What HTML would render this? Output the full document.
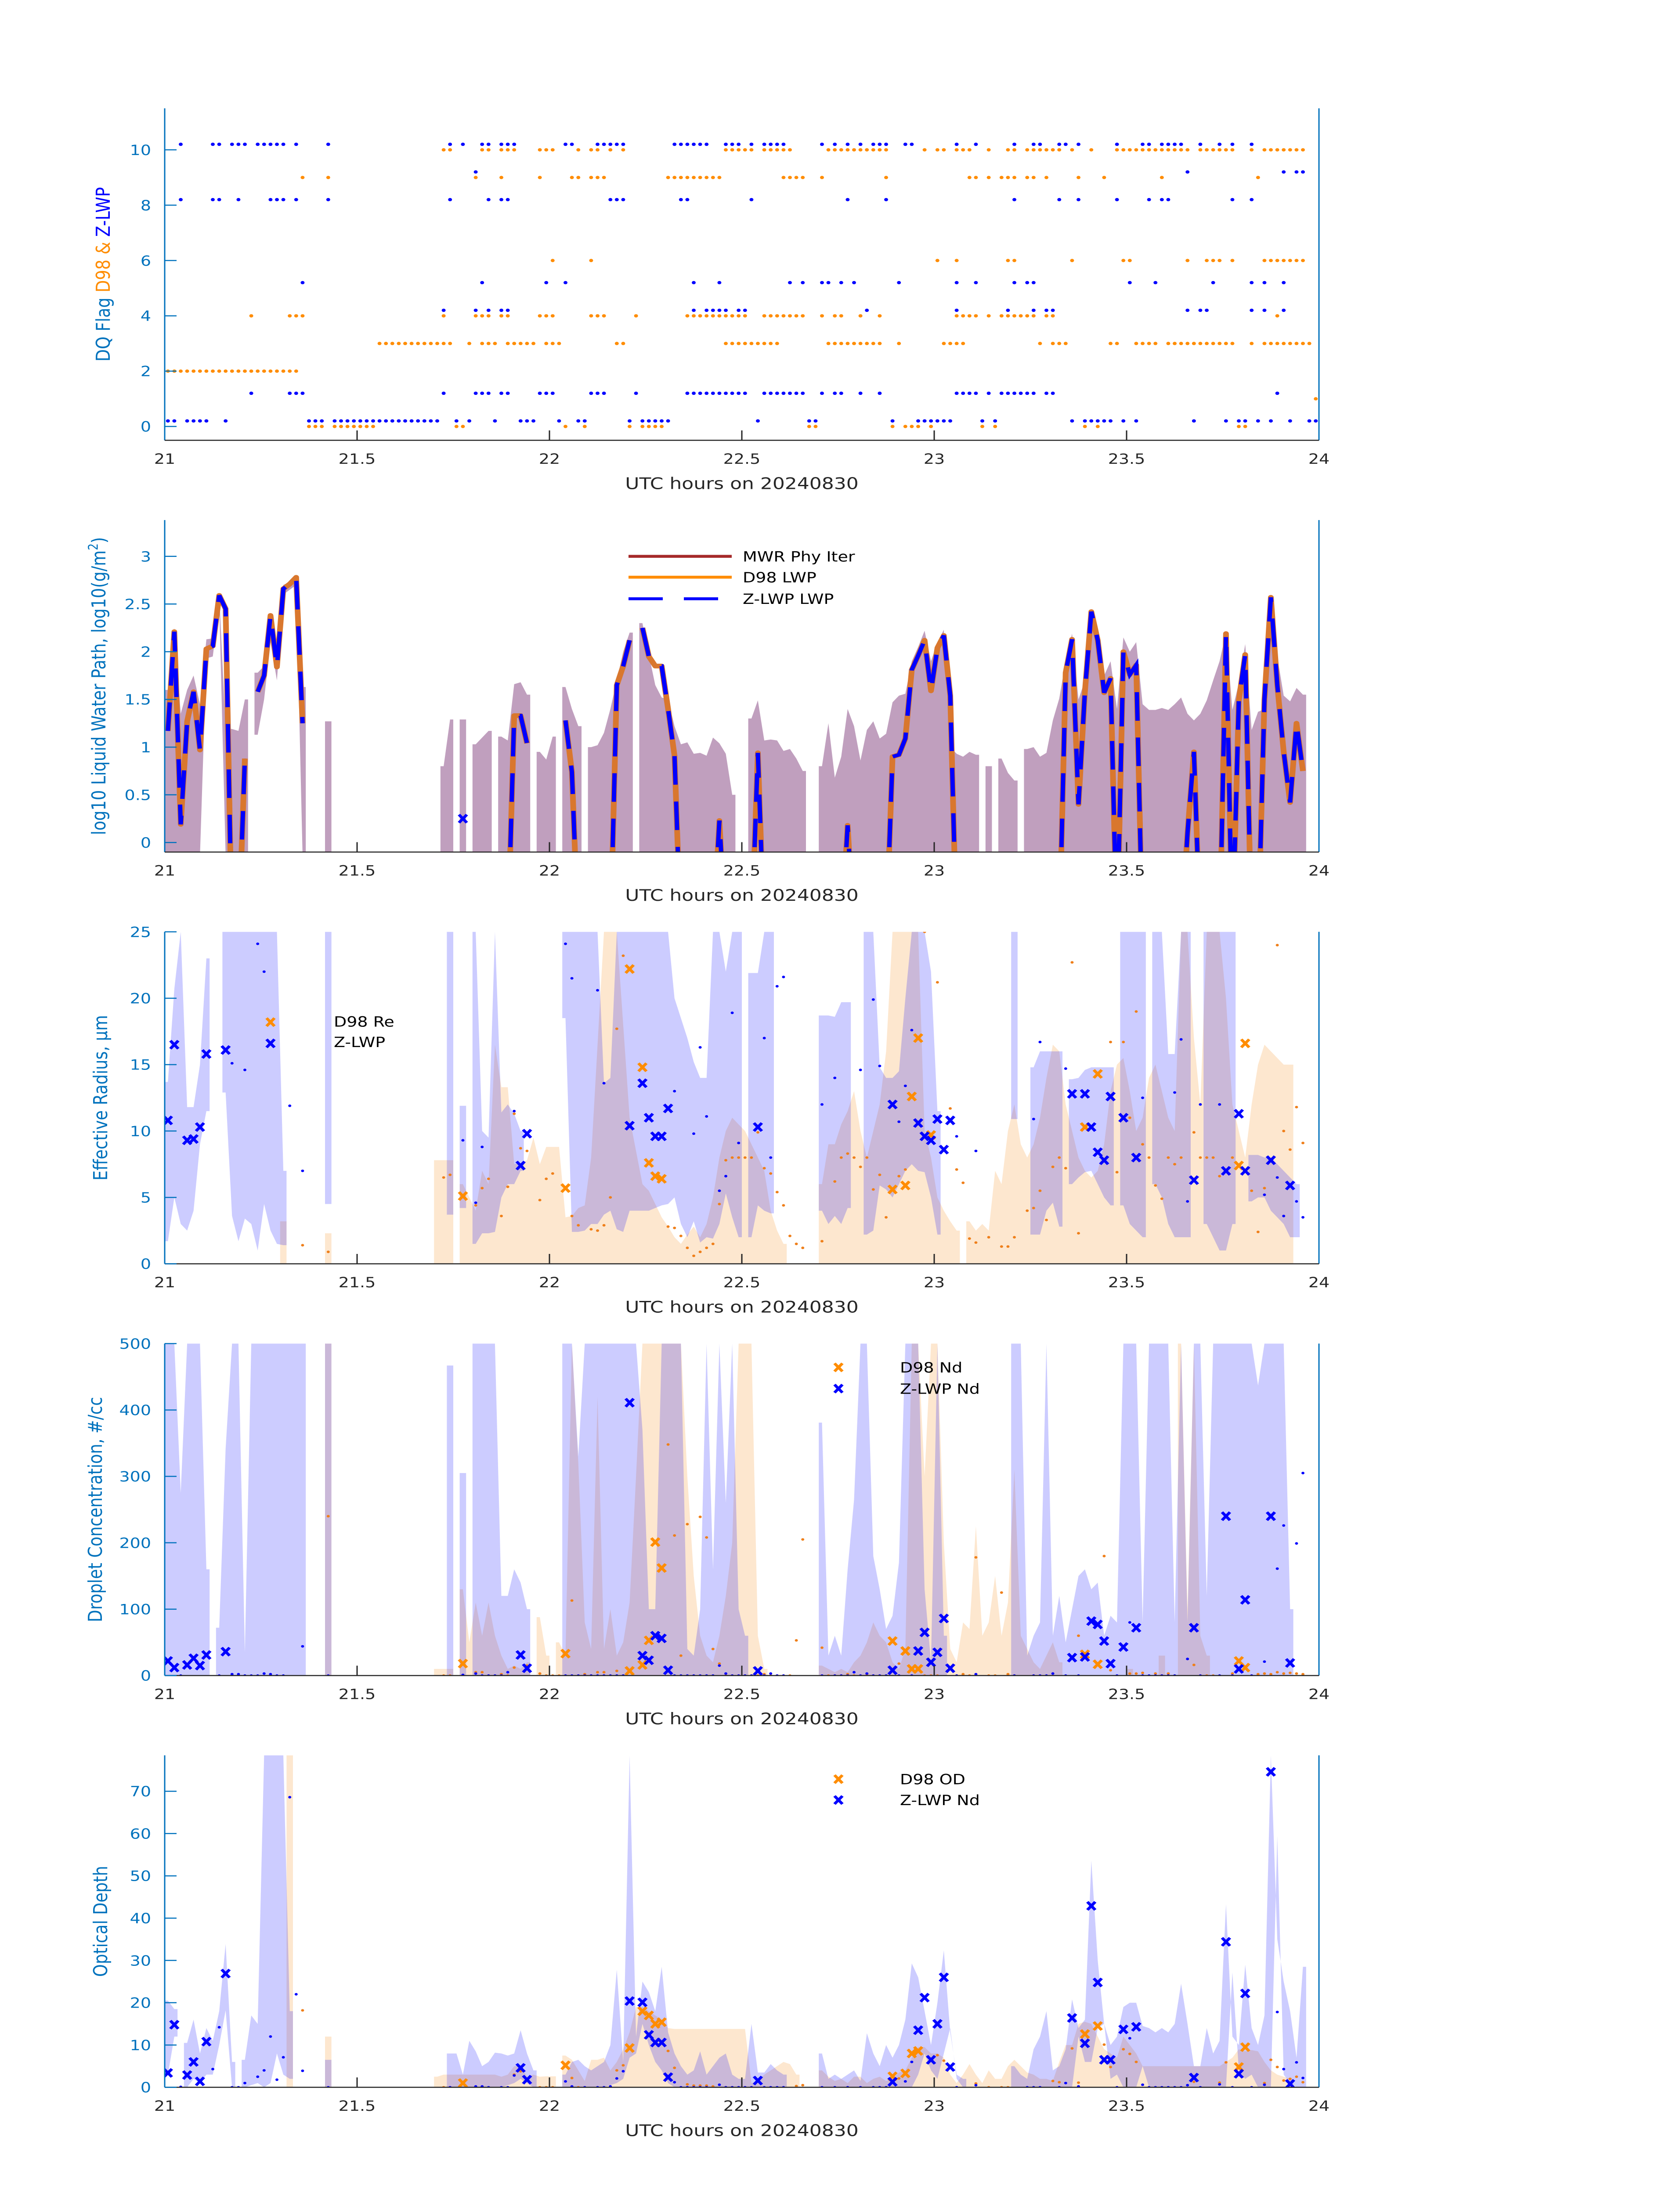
<!DOCTYPE html>
<html><head><meta charset="utf-8"><title>Cloud retrievals 20240830</title>
<style>
html,body{margin:0;padding:0;background:#fff;overflow:hidden;}
svg{display:block;width:100vw;height:100vh;font-family:"DejaVu Sans","Liberation Sans",sans-serif;}
</style></head>
<body>
<svg id="chart" xmlns="http://www.w3.org/2000/svg" viewBox="0 0 3825 6000" preserveAspectRatio="none">
<rect x="0" y="0" width="3825" height="6000" fill="#fff"/>
</svg>
<script>
// ---------- Panel 1: DQ flags (minute indices per flag level) ----------
const d98FlagLevels = [10, 9, 6, 4, 3, 2, 1, 0];
const d98Flag10 = [43,44,49,50,52,53,54,58,59,60,64,66,67,69,71,87,88,89,90,91,93,94,95,96,97,103,104,105,106,107,108,109,110,111,112,118,120,121,123,124,125,128,131,132,134,135,136,137,138,139,141,144,148,149,150,151,152,153,154,155,156,157,158,159,161,162,163,164,165,166,169,171,172,173,174,175,176,177];
const d98Flag9 = [21,25,48,52,58,63,64,66,67,68,78,79,80,81,82,83,84,85,86,96,97,98,99,102,112,125,126,128,130,131,132,134,135,137,142,146,155,170];
const d98Flag6 = [60,66,120,123,131,132,141,149,150,159,162,163,164,166,171,172,173,174,175,176,177];
const d98Flag4 = [13,19,20,21,43,48,49,50,52,53,58,59,60,66,67,68,73,81,82,83,84,85,86,87,88,89,90,93,94,95,96,97,98,99,102,104,105,108,111,123,124,125,126,128,130,131,132,133,134,135,137,138,173];
const d98Flag3 = [33,34,35,36,37,38,39,40,41,42,43,44,47,49,50,51,53,54,55,56,57,59,60,61,70,71,87,88,89,90,91,92,93,94,95,103,104,105,106,107,108,109,110,111,114,121,122,123,124,136,138,139,140,147,148,151,152,153,154,156,157,158,159,160,161,162,163,164,165,166,169,171,172,173,174,175,176,177,178];
const d98Flag2 = [0,1,2,3,4,5,6,7,8,9,10,11,12,13,14,15,16,17,18,19,20];
const d98Flag1 = [179];
const d98Flag0 = [22,23,24,26,27,28,29,30,31,32,45,46,62,65,72,74,75,76,77,100,101,113,115,116,117,119,127,129,143,145,167,168];
const zlwpFlagLevels = [10.2, 9.2, 8.2, 5.2, 4.2, 1.2, 0.2];
const zlwpFlag10 = [2,7,8,10,11,12,14,15,16,17,18,20,25,44,46,49,50,52,53,54,62,63,67,68,69,70,71,79,80,81,82,83,84,87,88,89,91,93,94,95,96,102,104,106,108,110,111,112,115,116,123,126,132,135,136,139,140,142,148,152,153,155,156,157,158,161,164,166,169];
const zlwpFlag9 = [48,159,174,176,177];
const zlwpFlag8 = [2,7,8,11,16,17,18,20,25,44,50,52,53,69,70,71,80,81,91,106,112,132,139,142,148,153,155,156,166,169];
const zlwpFlag5 = [21,49,59,62,82,86,97,99,102,103,105,107,114,123,126,132,134,135,150,154,163,169,171,174];
const zlwpFlag4 = [43,48,50,52,53,82,84,85,86,87,89,90,109,123,131,135,137,138,159,161,162,169,171,174];
const zlwpFlag1 = [13,19,20,21,43,48,49,50,52,53,58,59,60,66,67,68,73,81,82,83,84,85,86,87,88,89,90,93,94,95,96,97,98,99,102,104,105,108,111,123,124,125,126,128,130,131,132,133,134,135,137,138,173];
const zlwpFlag0 = [0,1,3,4,5,6,9,22,23,24,26,27,28,29,30,31,32,33,34,35,36,37,38,39,40,41,42,45,47,51,55,56,57,61,64,65,72,74,75,76,77,78,92,100,101,113,117,118,119,120,121,122,127,129,141,143,144,145,146,147,149,151,160,165,167,168,170,172,175,178,179];

// ---------- Panel 2: LWP ----------
const lwpIdx = [0,1,2,3,4,5,6,7,8,9,10,11,12,14,15,16,17,18,19,20,21,49,53,54,55,56,62,63,64,69,70,71,72,74,75,76,77,78,79,80,85,86,87,91,92,93,105,106,107,112,113,114,115,116,117,118,119,120,121,122,123,139,140,141,142,143,144,145,146,147,148,149,150,151,152,158,159,160,161,164,165,166,167,168,169,170,171,172,173,174,175,176,177];
const d98Lwp = [1.17,2.21,0.19,1.27,1.58,0.97,2.03,2.06,2.59,2.45,-1,-1,0.88,1.58,1.75,2.38,1.84,2.66,2.71,2.78,1.25,-1,-1,1.33,1.33,1.04,1.28,0.74,-1,-1,1.65,1.85,2.12,2.25,1.95,1.85,1.85,1.4,0.91,-1,-1,0.23,-1,-1,0.94,-1,-1,0.18,-1,-1,0.9,0.92,1.09,1.81,1.96,2.12,1.59,2.04,2.17,1.54,-1,-1,1.78,2.13,0.4,1.58,2.42,2.12,1.57,1.72,-1,2.0,1.76,1.86,-1,-1,0.1,0.95,-1,-1,2.19,-1,1.49,1.97,-1,-1,1.5,2.57,1.65,0.95,0.42,1.25,0.75];
const zlwpLwp = [1.17,2.21,0.19,1.27,1.58,0.97,2.03,2.06,2.59,2.45,-1,-1,0.88,1.58,1.75,2.38,1.84,2.66,2.71,2.78,1.25,null,-1,1.33,1.33,1.04,1.28,0.74,-1,-1,1.65,1.85,2.12,2.25,1.95,1.85,1.85,1.4,0.91,-1,-1,0.23,-1,-1,0.94,-1,-1,0.18,-1,-1,0.9,0.92,1.09,1.81,1.96,2.12,1.59,2.04,2.17,1.54,-1,-1,1.78,2.13,0.4,1.58,2.42,2.12,1.57,1.72,-1,2.0,1.76,1.86,-1,-1,0.1,0.95,-1,-1,2.19,-1,1.49,1.97,-1,-1,1.5,2.57,1.65,0.95,0.42,1.25,0.75];
const lwpBandIdx = [0,1,2,3,4,5,6,7,8,9,10,11,12,14,15,16,17,18,19,20,21,25,43,44,46,48,49,50,52,53,54,55,56,58,59,60,62,63,64,66,67,68,69,70,71,72,74,75,76,77,78,79,80,81,82,83,84,85,86,87,88,91,92,93,94,95,96,97,98,99,102,103,104,105,106,107,108,109,110,111,112,113,114,115,116,117,118,119,120,121,122,123,124,125,126,128,130,131,132,134,135,136,137,138,139,140,141,142,143,144,145,146,147,148,149,150,151,152,153,154,155,156,157,158,159,160,161,162,163,164,165,166,167,168,169,170,171,172,173,174,175,176,177];
const lwpBandHi = [1.6,2.25,1.35,1.6,1.75,1.45,2.13,2.14,2.6,1.2,1.19,1.17,1.5,1.78,1.85,2.4,1.9,2.7,2.73,2.8,1.63,1.27,0.8,1.29,1.29,1.03,1.1,1.17,1.11,1.07,1.66,1.68,1.55,0.95,0.87,1.11,1.63,1.4,1.22,1.0,1.02,1.15,1.4,1.7,2.0,2.2,2.3,1.97,1.65,1.52,1.5,1.22,1.03,1.05,0.93,0.94,0.91,1.1,1.04,0.93,0.5,1.3,1.49,1.07,1.08,1.07,0.96,0.98,0.88,0.75,0.8,1.25,0.68,0.9,1.4,1.22,0.86,1.18,1.27,1.09,1.14,1.47,1.54,1.56,1.9,2.05,2.22,1.9,2.1,2.23,1.0,0.93,0.9,0.95,0.92,0.8,0.88,0.73,0.65,0.98,1.0,0.9,0.94,1.28,1.51,1.9,2.19,1.5,1.7,2.45,2.15,1.75,1.9,1.4,2.15,2.0,2.1,1.45,1.39,1.39,1.41,1.39,1.45,1.52,1.35,1.28,1.35,1.49,1.7,1.9,2.2,1.39,1.67,2.08,1.18,1.37,1.4,2.6,1.95,1.54,1.48,1.62,1.55];
const lwpBandLoIdx = [6,7,8,14,15,16,17,18,19,20];
const lwpBandLoVal = [1.93,1.95,2.5,1.13,1.5,2.1,1.7,2.6,2.65,2.7];
const zlwpLwpMarkerIdx = [46];
const zlwpLwpMarkerVal = [0.25];

// ---------- Panel 3: effective radius ----------
const reBlueIdx = [0,1,2,3,4,5,6,9,10,11,12,13,14,15,16,17,18,25,44,46,48,49,50,51,52,53,54,55,62,63,64,65,66,67,68,69,70,71,72,73,74,75,76,77,78,79,80,81,82,83,84,85,86,87,88,89,91,92,93,94,102,103,104,105,106,109,110,111,112,113,114,115,116,117,118,119,120,132,135,136,137,138,139,141,142,143,144,145,146,147,149,150,151,152,154,155,156,157,158,159,162,163,164,165,166,169,170,171,172,173,174,175,176];
const reBlueLo = [1.7,5,3,2.5,4,9,11.5,12.9,3.6,1.7,3.4,3,1,4.5,2.5,1.5,1.4,4.5,3.7,4.2,1.5,2.3,2.3,2.4,5,6,6,7,18.5,2.4,2.4,2.5,3,3,3.7,4,2.6,2.4,4,4,4,4,4.2,4.4,4.5,5,3,2,3.2,1.6,2,1.9,3,5.3,3.5,2,2,4.4,4,3.8,4,3,3.6,3,4.2,2.2,2.5,5.9,5.6,5,6,7,7.5,7,6.9,5,2.2,10.9,2.2,2.2,4,4.6,2.8,6,6.5,6.9,7,6,5,4.4,4.4,3,2.5,2,6,5,3,2,2,2,3,2,1,1,3,4.7,5,5,4,3.5,3,2,2];
const reBlueHi = [13.7,20.7,25,11.8,11.8,15,23,25,25,25,25,25,25,25,25,25,7,25,25,11.9,25,10,9.5,25,11.4,12,11.3,10,25,25,25,25,25,25,13.6,14,25,25,25,25,25,25,25,25,25,20,18.5,17,15.2,14,14,25,25,22,25,25,21.9,21.9,25,25,18.7,18.7,18.6,19.7,19.7,25,25,14.8,14,14,14.5,20,25,25,25,22,11.5,25,14.8,16,16,16,16,13.9,14,14.6,14.8,14.8,14.8,14.8,25,25,25,25,25,25,15.8,15.8,25,25,25,25,25,25,25,8.2,8.2,8,8,7.5,7,6.5,6];
const reOrangeIdx = [18,25,42,43,44,46,47,48,49,50,51,52,53,54,55,56,57,58,59,60,61,62,63,64,65,66,67,68,69,70,71,72,73,74,75,76,77,78,79,80,81,82,83,84,85,86,87,88,89,90,91,92,93,94,95,96,102,103,104,105,106,107,108,109,110,111,112,113,114,115,116,117,118,119,120,121,122,123,125,126,127,128,129,130,131,132,133,134,135,136,137,138,139,140,141,142,143,144,145,146,147,148,149,150,151,152,153,154,155,156,157,158,159,160,161,162,163,164,165,166,167,168,169,170,171,172,173,174,175];
const reOrangeHi = [3.2,2.3,7.8,7.8,7.8,6,5,4,7,6,16.5,13.3,13.3,7.5,7.6,7.8,9.5,7.5,8.8,8.8,8.8,3.5,3.6,4.2,4.4,8,16.5,25,25,25,18,11,8.5,6,5.5,4.5,3.5,2.8,2,1.5,2.2,2.8,2,3,5,8,10,11,10.5,10,9,8,7,4,2.5,1.5,6,9,9,10.5,11.5,13,10,8,10,12,16,25,25,25,25,25,10,8,5,4,3.2,2.5,3.2,2.5,3,2.5,7,6,10,12,9,8,9,11,14,16.5,16,12,10,8,7,6.5,7,9,13,15,15.5,13,10,11,14,15,13,11,10,25,25,17,12,25,25,25,20,12,10,8,12,15,16.5,16,15.5,15,15];
const reBlueXIdx = [0,1,3,4,5,6,9,16,55,56,72,74,75,76,77,78,92,113,117,118,119,120,121,122,141,143,144,145,146,147,149,151,160,165,167,168,172,175];
const reBlueXVal = [10.8,16.5,9.3,9.4,10.3,15.8,16.1,16.6,7.4,9.8,10.4,13.6,11,9.6,9.6,11.7,10.3,12,10.6,9.6,9.3,10.9,8.6,10.8,12.8,12.8,10.3,8.4,7.8,12.6,11,8,6.3,7,11.3,7,7.8,5.9];
const reOrangeXIdx = [16,46,62,72,74,75,76,77,113,115,116,117,119,143,145,167,168];
const reOrangeXVal = [18.2,5.1,5.7,22.2,14.8,7.6,6.6,6.4,5.6,5.9,12.6,17,9.7,10.3,14.3,7.4,16.6];
const reBlueDotIdx = [10,12,14,15,19,21,46,48,49,54,62,63,67,68,79,82,83,84,86,87,88,89,93,94,95,96,102,104,108,110,111,114,115,116,123,126,135,136,140,152,157,158,159,161,164,171,173,174,176,177];
const reBlueDotVal = [15.1,14.6,24.1,22,11.9,7,9.3,4.6,8.8,11.5,24.1,21.5,20.6,13.6,13,9.8,16.3,11.1,5.5,6.6,18.9,9.1,17,8,20.9,21.6,12,14,14.6,19.9,14.9,10.7,13.4,17.6,9.6,8.5,10.9,16.7,14.7,12.5,12.9,16.9,4.7,12,12,5.2,6.5,3.6,4.7,3.5];
const reOrangeDotIdx = [21,25,43,44,48,49,50,52,53,54,55,56,58,59,60,63,64,66,67,68,69,70,71,78,79,80,81,82,83,84,85,86,87,88,89,90,91,92,93,94,95,96,97,98,99,102,104,105,106,107,108,109,110,111,112,114,115,118,120,122,123,124,125,126,128,130,131,132,134,135,136,137,138,139,140,141,142,147,148,149,150,151,152,153,154,155,156,157,158,160,161,162,163,164,166,169,170,171,173,174,175,176,177];
const reOrangeDotVal = [1.4,0.9,6.5,6.7,4.4,5.7,6.4,3.6,5.8,11.3,8.7,8.5,4.8,6.4,6.8,3.6,2.9,2.6,2.5,2.9,5,17.7,23.2,2.8,2.7,2.1,1.2,0.6,0.9,1.2,1.5,4.5,7.8,8,8,8,8,9.9,7.2,6.8,5.4,4.4,2.1,1.5,1.2,1.7,6.2,8,8.3,8,7.3,8,5.6,6.7,3.5,6.6,7.1,25,21.2,11.7,7.1,6.1,1.9,1.6,2,1.3,1.3,2,4,4.2,5.5,3.3,7.3,8,7.2,22.7,2.3,16.7,6.9,16.7,11,19,9,8,5.9,4.9,8,7.5,8,9.9,8,8,8,6.6,8,5.5,2.4,5.7,24,10,8.6,11.8,9.1];

// ---------- Panel 4: droplet concentration ----------
const ndBlueIdx = [0,1,2,3,4,5,6,8,9,10,11,12,13,14,15,16,17,18,19,20,21,25,44,46,48,49,50,51,52,53,54,55,56,62,63,64,65,66,67,68,69,70,71,72,73,74,75,76,77,78,79,80,81,82,83,84,85,86,87,88,89,90,102,103,104,105,106,107,108,109,110,111,112,113,114,115,116,117,118,119,120,121,132,133,134,135,136,137,138,139,140,141,142,143,144,145,146,147,148,149,150,151,152,153,154,155,156,157,158,159,160,161,162,163,164,165,166,167,168,169,170,171,172,173,174,175];
const ndBlueHi = [500,500,275,500,500,500,160,72,342,500,500,35,500,500,500,500,500,500,500,500,500,500,467,305,500,500,500,500,120,120,160,140,100,500,500,330,500,500,500,500,500,500,500,500,500,370,100,100,500,500,500,500,40,30,100,500,160,500,260,500,100,60,381,30,60,30,160,265,500,500,180,130,70,90,170,500,500,500,130,20,500,60,500,500,30,60,80,500,60,120,50,100,150,160,130,140,60,90,80,500,500,500,80,500,500,500,500,80,500,80,500,500,120,500,500,500,500,500,500,500,437,500,500,500,500,100];
const ndOrangeIdx = [25,42,43,44,46,47,48,49,50,51,52,53,54,55,56,58,59,61,62,63,64,65,66,67,68,69,70,71,72,73,74,75,76,77,78,79,80,81,82,83,84,85,86,87,88,89,90,91,92,93,102,103,104,105,106,107,108,109,110,111,112,113,114,115,116,117,118,119,120,121,122,123,124,125,126,127,128,129,130,131,132,133,134,135,136,137,138,139,150,155,158,159,160,161,162];
const ndOrangeHi = [500,10,10,10,130,50,110,60,110,60,30,10,15,10,20,88,30,50,30,500,320,80,40,420,40,100,30,50,110,300,500,500,500,500,500,500,500,300,150,60,30,20,60,120,200,500,500,500,60,10,15,10,5,10,5,20,30,50,80,60,50,20,10,40,500,500,300,500,500,200,40,20,80,70,225,60,80,150,60,110,310,60,40,20,10,30,50,20,10,30,500,100,500,60,30];
const ndBlueXIdx = [0,1,3,4,5,6,9,55,56,72,74,75,76,77,78,92,113,117,118,119,120,121,122,141,143,144,145,146,147,149,151,160,165,167,168,172,175];
const ndBlueXVal = [22,12,16,26,15,31,36,31,11,411,30,23,60,56,8,7,8,37,65,20,35,86,11,27,28,82,77,52,18,43,72,72,240,10,114,240,19];
const ndOrangeXIdx = [46,62,72,74,75,76,77,113,115,116,117,143,145,167,168];
const ndOrangeXVal = [18,33,7,16,53,201,162,52,37,10,10,32,17,22,12];
const ndBlueDotIdx = [2,8,10,11,12,13,14,15,16,17,18,21,25,46,48,49,50,51,52,53,62,63,64,65,66,67,68,69,70,71,79,80,81,82,83,84,85,86,87,88,89,90,91,93,94,95,96,102,104,105,106,107,108,109,110,111,112,114,116,123,126,132,135,136,137,138,140,142,148,150,152,153,154,155,156,157,159,161,164,166,169,171,173,174,176,177];
const ndBlueDotVal = [0,0,2,2,0,0,0,3,2,0,0,44,0,1,3,0,0,0,0,5,0,0,0,0,0,0,0,0,0,0,0,0,0,0,0,0,0,15,3,0,0,0,0,0,3,0,0,0,0,0,0,5,0,3,0,0,0,0,0,0,2,0,0,0,0,3,0,0,0,80,0,0,0,0,0,0,25,0,0,0,0,21,161,226,199,305];
const ndOrangeDotIdx = [25,43,44,48,49,50,52,53,54,56,58,59,60,61,63,64,65,66,67,68,70,71,78,79,80,81,83,84,85,86,87,88,89,90,91,92,93,94,95,96,97,98,99,102,103,104,105,106,107,108,109,110,111,112,114,118,119,120,123,124,125,126,128,129,130,131,132,135,138,142,146,147,150,151,152,154,155,156,157,160,161,162,163,164,166,169,170,171,172,173,174,175,176,177];
const ndOrangeDotVal = [240,0,0,5,5,0,2,0,12,15,3,0,0,0,113,0,2,0,5,5,7,0,348,211,30,228,239,208,40,18,0,0,0,0,0,0,2,0,0,0,0,53,205,42,0,0,0,2,0,0,2,0,0,0,18,0,0,0,0,2,0,178,0,0,125,2,0,0,3,60,180,8,3,3,4,3,0,3,0,16,0,0,0,0,3,0,2,3,2,5,3,4,3,2];

// ---------- Panel 5: optical depth ----------
const odBlueIdx = [0,1,3,4,5,6,7,8,9,10,12,13,14,15,16,17,18,19,25,44,45,46,47,48,49,50,51,52,53,54,55,56,57,62,63,64,65,66,67,68,69,70,71,72,73,74,75,76,77,78,79,80,81,82,83,84,85,86,87,88,89,90,91,92,93,94,95,96,102,103,104,105,106,107,108,109,110,111,112,113,114,115,116,117,118,119,120,121,122,123,124,132,133,134,135,136,137,138,139,140,141,142,143,144,145,146,147,148,149,150,151,152,153,154,155,156,157,158,159,160,161,162,163,164,165,166,167,168,169,170,171,172,173,174,175,176,177];
const odBlueLo = [3,12,0,2,1,3,3,10,18.2,0,0,0.5,1,0,1,8,3,2,0,0,0,0,0,0,0,0,0,0,0.5,1,2,1,0,0,0,0,0,0,0,0,0.5,1,2,7,8,15,10,6,4,1,0,0,0,0,0,0,0,0,0,0,0,0,0,0,0,0,0,0,0,0,0,0,0,0,0,0,0,0,0,0,0,0,0,3,8,4,2,8,14,2,0,0,0,0,0,0,0,0,0,0,0,12,6,6,14,15,2,3,0,0,0,5,0,0,0,0,0,0,0,0,0,0,0,0,0,27.2,4,2,3,0,0,0,59.4,3,1,0,0,0];
const odBlueHi = [20.5,18.5,10.5,16,8,14,11,18,33.9,6,6.5,17,15,78.5,78.5,78.5,78.5,18,6.5,8,8,3,11,8.5,5,6,8.2,8,7.5,8,13.5,8,4,3,6,6.5,5,4,5,6,10,27.8,6,78.5,12,25,22.5,18,28.5,13,8,5,3,4,8.5,3,5,7,8,3,2,2,15,3.5,3.5,5.5,4,3,8,2,3,2,3,4,1.5,12.8,8,5,10,7,10,16,29.3,26,18,10,20,32.4,13,3,2,5,3,2,9,12,18,4,5,9,20.8,14,16,53.6,30,15,10,12,19,20,20,14.5,14,13,14,13,15,24.5,15,5,5,14,8,11,43.3,12,10,29,14,10,17,78.5,35,25,18,7,28.5];
const odOrangeIdx = [19,25,42,43,44,45,46,47,48,49,50,51,52,53,54,55,56,57,58,59,60,62,63,64,65,66,67,68,69,70,71,72,73,74,75,76,77,78,79,80,81,82,83,84,85,86,87,88,89,90,91,92,93,94,95,96,97,98,102,103,104,105,106,107,108,109,110,111,112,113,114,115,116,117,118,119,120,121,122,123,124,125,126,127,128,129,130,131,132,133,134,135,136,137,138,139,140,141,142,143,144,145,146,147,148,149,150,151,152,153,154,155,156,157,158,159,160,161,162,163,164,165,166,167,168,169,170,171,172,173,174,175];
const odOrangeHi = [78.5,12,2.5,3,3,3,3,3,3,3,3,3,2.5,3,5,5,2.5,3,2.5,2.6,2.6,7.5,6.5,4,1.5,6.5,6.5,7,4,6,9,13,19,19,18,17,16,14,13.8,13.8,13.8,13.8,13.8,13.8,13.8,13.8,13.8,13.8,13.8,13.8,1,1.5,3,4,5,6,5.5,3,4,2.5,1.5,2,1,2.5,2.5,1,2,2.5,1.5,2,3.5,4,7,9.5,9.5,8,8,7,3,1,3,5.5,3,1,4,2,2,5,6.5,5,3.5,3,2,2,1.5,6,10,10,15,15.5,15,12,9,8,7,12,10,8,5,5,5,5,5,5,5,5,5,5,5,5,5,6,7,9,8.5,8.8,8.5,6,4,3,2.5,2,2];
const odBlueXIdx = [0,1,3,4,5,6,9,55,56,72,74,75,76,77,78,92,113,117,118,119,120,121,122,141,143,144,145,146,147,149,151,160,165,167,168,172,175];
const odBlueXVal = [3.4,14.8,2.9,6,1.4,10.8,26.9,4.6,1.8,20.4,20.1,12.4,10.6,10.6,2.4,1.6,1.3,13.5,21.2,6.5,15,26,4.8,16.4,10.4,42.9,24.8,6.5,6.5,13.7,14.3,2.3,34.4,3.2,22.2,74.6,0.8];
const odOrangeXIdx = [46,62,72,74,75,76,77,113,115,116,117,143,145,167,168];
const odOrangeXVal = [1,5.2,9.3,18,17,15,15.4,2.6,3.3,8,8.6,12.6,14.5,4.8,9.5];
const odBlueDotIdx = [2,7,8,10,11,12,14,15,16,17,18,19,20,21,25,44,48,49,50,52,53,54,62,63,65,67,68,69,70,71,79,80,81,82,83,84,86,87,88,89,90,91,93,94,95,96,102,104,106,108,110,111,112,115,116,123,126,134,135,136,139,140,142,148,150,152,153,154,155,156,157,158,159,161,164,166,169,171,173,174,176,177];
const odBlueDotVal = [0.1,4.3,14.2,0,0,1,2.5,4,12,1.8,7.1,68.6,22,3.9,0,0,0.2,0.2,0,0,0,2.8,1.4,0.2,0,0,0,0.2,2.1,3.8,1.2,0,0,0,0,0,0.6,0,0,0,0,0,0,0,0,0,0,0,0,0,0,0,0,1.4,6,0,0.5,0,0,0,0,1,0.2,0,11.6,0.6,0,0,0,0,0,0,0.5,0,0.7,0,0,0.6,17.8,4.3,5.9,2.2];
const odOrangeDotIdx = [21,43,44,54,55,58,59,60,63,64,70,71,78,79,81,82,83,84,85,87,88,89,90,98,99,114,120,121,126,128,130,131,138,139,141,142,146,147,149,150,151,160,164,165,171,172,173,174,175,176,177];
const odOrangeDotVal = [18.2,0,0,3,3.8,0,0,0,2.2,0,4,5.2,8.6,4.6,0.7,0.4,0.4,0.4,0.2,0,0,0,0,0.3,0.5,2.1,7.6,6.3,0.9,0,0,0,1.5,1.2,9.2,1.1,10.1,4.8,9,7.9,6,1.3,1.1,5.9,1,6.5,4.8,1.6,2,2.5,1.2];

// ---------- Axis tick labels ----------
const xTickVals = [21, 21.5, 22, 22.5, 23, 23.5, 24];
const xTickLabels = ['21','21.5','22','22.5','23','23.5','24'];
const p1YTicks = [0,2,4,6,8,10];
const p2YTicks = [0,0.5,1,1.5,2,2.5,3];
const p2YTickLabels = ['0','0.5','1','1.5','2','2.5','3'];
const p3YTicks = [0,5,10,15,20,25];
const p4YTicks = [0,100,200,300,400,500];
const p5YTicks = [0,10,20,30,40,50,60,70];

// ---------- drawing ----------
const NS = 'http://www.w3.org/2000/svg';
const svg = document.getElementById('chart');
const AX_L = 375, AX_R = 3003, PX_PER_HR = 876;
const AXBLUE = '#0072bd', ORANGE = '#ff8c00', BLUE = '#0000ff';
function xHr(t) { return AX_L + (t - 21) * PX_PER_HR; }
function xIdx(i) { return xHr(21 + (i + 0.5) / 60); }
function el(tag, attrs, parent) {
  const e = document.createElementNS(NS, tag);
  for (const k in attrs) e.setAttribute(k, attrs[k]);
  (parent || svg).appendChild(e);
  return e;
}
function makePanel(name, top, bot, ymin, ymax) {
  const g = el('g', {});
  
  
  const cid = 'clip-' + name;
  const cp = el('clipPath', {id: cid}, g);
  el('rect', {x: AX_L, y: top, width: AX_R - AX_L, height: bot - top}, cp);
  const plot = el('g', {'clip-path': 'url(#' + cid + ')'}, g);
  
  
  const y = v => bot - (v - ymin) / (ymax - ymin) * (bot - top);
  return {g, plot, y, top, bot, ymin, ymax, name};
}
function drawAxes(p, yTicks, yLabels, xLabelText) {
  const ax = el('g', {}, p.g);
  
  
  const yl = el('line', {x1: AX_L, y1: p.top, x2: AX_L, y2: p.bot, stroke: AXBLUE, 'stroke-width': 3}, ax);
  
  
  const yr = el('line', {x1: AX_R, y1: p.top, x2: AX_R, y2: p.bot, stroke: AXBLUE, 'stroke-width': 3}, ax);
  
  
  const xl = el('line', {x1: AX_L, y1: p.bot, x2: AX_R, y2: p.bot, stroke: '#262626', 'stroke-width': 3}, ax);
  
  
  yTicks.forEach((v, k) => {
    const yy = p.y(v);
    const t = el('line', {x1: AX_L, y1: yy, x2: AX_L + 27, y2: yy, stroke: AXBLUE, 'stroke-width': 3}, ax);
    
    
    const tx = el('text', {x: 344, y: yy + 14, 'text-anchor': 'end', 'font-size': 38, fill: AXBLUE}, ax);
    tx.textContent = yLabels[k];
    
    
  });
  xTickVals.forEach((v, k) => {
    const xx = xHr(v);
    if (k > 0 && k < xTickVals.length - 1) {
      const t = el('line', {x1: xx, y1: p.bot, x2: xx, y2: p.bot - 27, stroke: '#262626', 'stroke-width': 3}, ax);
      
      
    }
    const tx = el('text', {x: xx, y: p.bot + 64, 'text-anchor': 'middle', 'font-size': 38, fill: '#262626'}, ax);
    tx.textContent = xTickLabels[k];
    
    
  });
  const xt = el('text', {x: (AX_L + AX_R) / 2, y: p.bot + 133, 'text-anchor': 'middle', 'font-size': 44, fill: '#262626'}, ax);
  xt.textContent = xLabelText;
  
  
}
function yTitle(p, x, parts, fs) {
  const cy = (p.top + p.bot) / 2;
  const t = el('text', {x: x, y: cy, 'text-anchor': 'middle', 'font-size': fs || 44, transform: 'rotate(-90 ' + x + ' ' + cy + ')'}, p.g);
  
  
  parts.forEach(pt => {
    const s = el('tspan', {fill: pt[1]}, t);
    if (pt[2]) { s.setAttribute('baseline-shift', 'super'); s.setAttribute('font-size', 30); }
    s.textContent = pt[0];
  });
}
function band(p, idx, lo, hi, fill, op, name) {
  const g = el('g', {}, p.plot);
  
  
  const n = Math.min(idx.length, hi.length);
  let runs = [], cur = [];
  for (let k = 0; k < n; k++) {
    const i = idx[k];
    if (cur.length && i !== idx[cur[cur.length - 1]] + 1) { runs.push(cur); cur = []; }
    cur.push(k);
  }
  if (cur.length) runs.push(cur);
  const floor = p.ymin - 0.01 * (p.ymax - p.ymin);
  const loV = k => {
    if (!lo) return floor;
    if (Array.isArray(lo)) return (lo[k] === undefined || lo[k] === null) ? floor : lo[k];
    const j = lo.idx.indexOf(idx[k]);
    return j >= 0 ? lo.val[j] : floor;
  };
  runs.forEach(r => {
    const pts = [];
    const a = r[0], b = r[r.length - 1];
    pts.push([xIdx(idx[a]) - 7.3, p.y(hi[a])]);
    r.forEach(k => pts.push([xIdx(idx[k]), p.y(hi[k])]));
    pts.push([xIdx(idx[b]) + 7.3, p.y(hi[b])]);
    pts.push([xIdx(idx[b]) + 7.3, p.y(loV(b))]);
    for (let j = r.length - 1; j >= 0; j--) pts.push([xIdx(idx[r[j]]), p.y(loV(r[j]))]);
    pts.push([xIdx(idx[a]) - 7.3, p.y(loV(a))]);
    const poly = el('polygon', {points: pts.map(q => q[0].toFixed(1) + ',' + q[1].toFixed(1)).join(' '), fill: fill, 'fill-opacity': op}, g);
    
    
  });
}
function dots(p, idx, val, color, r, name, parent) {
  const g = el('g', {}, parent || p.plot);
  
  
  idx.forEach((i, k) => {
    if (val[k] === undefined) return;
    const c = el('circle', {cx: xIdx(i), cy: p.y(val[k]), r: r, fill: color}, g);
    
    
  });
}
function crosses(p, idx, val, color, name) {
  const g = el('g', {}, p.plot);
  
  
  idx.forEach((i, k) => {
    if (val[k] === undefined) return;
    const cx = xIdx(i), cy = p.y(val[k]);
    const path = el('path', {d: 'M' + (cx - 9) + ' ' + (cy - 11) + 'L' + (cx + 9) + ' ' + (cy + 11) + 'M' + (cx + 9) + ' ' + (cy - 11) + 'L' + (cx - 9) + ' ' + (cy + 11), stroke: color, 'stroke-width': 7, fill: 'none'}, g);
    
    
  });
}
function line(p, idx, val, attrs, name) {
  let d = '', prev = null;
  idx.forEach((i, k) => {
    const v = val[k];
    if (v === null || v === undefined) { prev = null; return; }
    const pt = xIdx(i).toFixed(1) + ' ' + p.y(v).toFixed(1);
    d += (prev !== null && i === prev + 1) ? 'L' + pt : 'M' + pt;
    prev = i;
  });
  const a = Object.assign({d: d, fill: 'none', 'stroke-linejoin': 'round'}, attrs);
  const e = el('path', a, p.plot);
  
  
}
function legendText(p, x, y, txt, name) {
  const t = el('text', {x: x, y: y, 'font-size': 38, fill: '#000'}, p.g);
  t.textContent = txt;
  
  
}
function legendCross(p, cx, cy, color, name) {
  const e = el('path', {d: 'M' + (cx - 9) + ' ' + (cy - 11) + 'L' + (cx + 9) + ' ' + (cy + 11) + 'M' + (cx + 9) + ' ' + (cy - 11) + 'L' + (cx - 9) + ' ' + (cy + 11), stroke: color, 'stroke-width': 7}, p.g);
  
  
}

// Panel 1
const p1 = makePanel('dq-flag-panel', 296, 1203, -0.5, 11.5);
const d98Sets = [d98Flag10, d98Flag9, d98Flag6, d98Flag4, d98Flag3, d98Flag2, d98Flag1, d98Flag0];
const zlwpSets = [zlwpFlag10, zlwpFlag9, zlwpFlag8, zlwpFlag5, zlwpFlag4, zlwpFlag1, zlwpFlag0];
d98Sets.forEach((s, k) => dots(p1, s, s.map(() => d98FlagLevels[k]), ORANGE, 4.5, 'd98-flag-' + d98FlagLevels[k]));
zlwpSets.forEach((s, k) => dots(p1, s, s.map(() => zlwpFlagLevels[k]), BLUE, 4.5, 'zlwp-flag-' + Math.floor(zlwpFlagLevels[k])));
drawAxes(p1, p1YTicks, p1YTicks.map(String), 'UTC hours on 20240830');
yTitle(p1, 250, [['DQ Flag  ', AXBLUE], ['D98 & ', ORANGE], [' Z-LWP', BLUE]]);

// Panel 2
const p2 = makePanel('lwp-panel', 1421, 2328, -0.1, 3.38);
band(p2, lwpBandIdx, {idx: lwpBandLoIdx, val: lwpBandLoVal}, lwpBandHi, '#c09fbe', 1, 'lwp-uncertainty-band');
line(p2, lwpIdx, d98Lwp, {stroke: '#a52a2a', 'stroke-width': 6}, 'mwr-phy-iter-line');
line(p2, lwpIdx, d98Lwp, {stroke: '#d9772e', 'stroke-width': 13}, 'd98-lwp-line');
line(p2, lwpIdx, zlwpLwp, {stroke: BLUE, 'stroke-width': 10, 'stroke-dasharray': '78 46', 'stroke-linejoin': 'miter'}, 'zlwp-lwp-line');
crosses(p2, zlwpLwpMarkerIdx, zlwpLwpMarkerVal, BLUE, 'zlwp-lwp-marker');
drawAxes(p2, p2YTicks, p2YTickLabels, 'UTC hours on 20240830');
yTitle(p2, 240, [['log10 Liquid Water Path, log10(g/m', AXBLUE], ['2', AXBLUE, true], [')', AXBLUE]]);
(function(){
  const lg = el('g', {}, p2.g);
  
  
  const rows = [['MWR Phy Iter', '#a52a2a', null, 1520], ['D98 LWP', ORANGE, null, 1577], ['Z-LWP LWP', BLUE, '78 48', 1636]];
  rows.forEach(r => {
    const l = el('line', {x1: 1431, y1: r[3], x2: 1666, y2: r[3], stroke: r[1], 'stroke-width': 8}, lg);
    if (r[2]) l.setAttribute('stroke-dasharray', r[2]);
    
    
    const t = el('text', {x: 1691, y: r[3] + 14, 'font-size': 38, fill: '#000'}, lg);
    t.textContent = r[0];
    
    
  });
})();

// Panel 3
const p3 = makePanel('effective-radius-panel', 2546, 3453, 0, 25);
band(p3, reOrangeIdx, null, reOrangeHi, '#f8a040', 0.25, 'd98-re-band');
band(p3, reBlueIdx, reBlueLo, reBlueHi, BLUE, 0.2, 'zlwp-re-band');
dots(p3, reOrangeDotIdx, reOrangeDotVal, '#ef7f1a', 3.5, 'd98-re-dots');
dots(p3, reBlueDotIdx, reBlueDotVal, BLUE, 3.5, 'zlwp-re-dots');
crosses(p3, reOrangeXIdx, reOrangeXVal, ORANGE, 'd98-re-markers');
crosses(p3, reBlueXIdx, reBlueXVal, BLUE, 'zlwp-re-markers');
drawAxes(p3, p3YTicks, p3YTicks.map(String), 'UTC hours on 20240830');
yTitle(p3, 244, [['Effective Radius, \u03bcm', AXBLUE]]);
legendText(p3, 760, 2805, 'D98 Re', 'legend-entry-d98-re');
legendText(p3, 760, 2861, 'Z-LWP', 'legend-entry-zlwp');

// Panel 4
const p4 = makePanel('droplet-concentration-panel', 3671, 4578, 0, 500);
band(p4, ndOrangeIdx, null, ndOrangeHi, '#f8a040', 0.25, 'd98-nd-band');
band(p4, ndBlueIdx, null, ndBlueHi, BLUE, 0.2, 'zlwp-nd-band');
dots(p4, ndOrangeDotIdx, ndOrangeDotVal, '#ef7f1a', 3.5, 'd98-nd-dots');
dots(p4, ndBlueDotIdx, ndBlueDotVal, BLUE, 3.5, 'zlwp-nd-dots');
crosses(p4, ndOrangeXIdx, ndOrangeXVal, ORANGE, 'd98-nd-markers');
crosses(p4, ndBlueXIdx, ndBlueXVal, BLUE, 'zlwp-nd-markers');
drawAxes(p4, p4YTicks, p4YTicks.map(String), 'UTC hours on 20240830');
yTitle(p4, 232, [['Droplet Concentration, #/cc', AXBLUE]]);
legendCross(p4, 1909, 3736, ORANGE, 'legend-marker-d98-nd');
legendCross(p4, 1909, 3794, BLUE, 'legend-marker-zlwp-nd');
legendText(p4, 2049, 3750, 'D98 Nd', 'legend-entry-d98-nd');
legendText(p4, 2049, 3808, 'Z-LWP Nd', 'legend-entry-zlwp-nd');

// Panel 5
const p5 = makePanel('optical-depth-panel', 4796, 5703, 0, 78.5);
band(p5, odOrangeIdx, null, odOrangeHi, '#f8a040', 0.25, 'd98-od-band');
band(p5, odBlueIdx, odBlueLo, odBlueHi, BLUE, 0.2, 'zlwp-od-band');
dots(p5, odOrangeDotIdx, odOrangeDotVal, '#ef7f1a', 3.5, 'd98-od-dots');
dots(p5, odBlueDotIdx, odBlueDotVal, BLUE, 3.5, 'zlwp-od-dots');
crosses(p5, odOrangeXIdx, odOrangeXVal, ORANGE, 'd98-od-markers');
crosses(p5, odBlueXIdx, odBlueXVal, BLUE, 'zlwp-od-markers');
drawAxes(p5, p5YTicks, p5YTicks.map(String), 'UTC hours on 20240830');
yTitle(p5, 244, [['Optical Depth', AXBLUE]]);
legendCross(p5, 1909, 4861, ORANGE, 'legend-marker-d98-od');
legendCross(p5, 1909, 4918, BLUE, 'legend-marker-zlwp-od');
legendText(p5, 2049, 4875, 'D98 OD', 'legend-entry-d98-od');
legendText(p5, 2049, 4932, 'Z-LWP Nd', 'legend-entry-zlwp-od');
</script>
</body></html>
